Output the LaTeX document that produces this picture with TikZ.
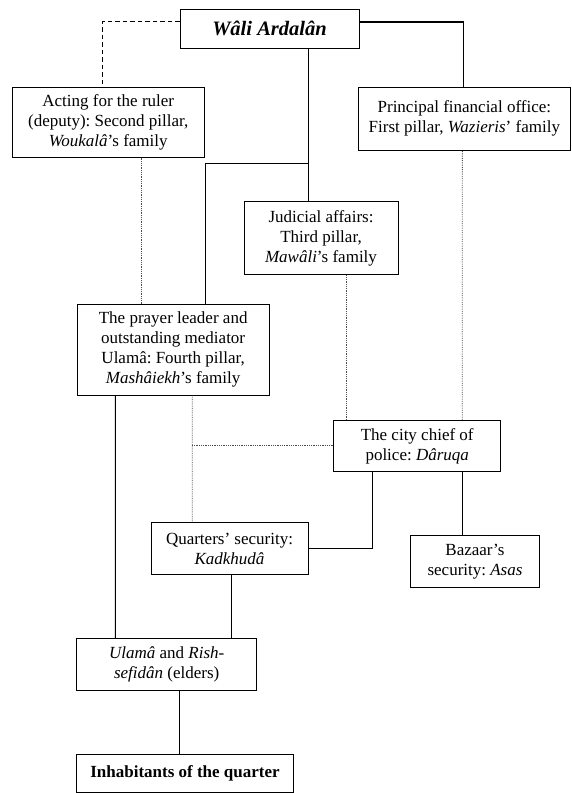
\documentclass[tikz,border=0pt]{standalone}
\usepackage{fontspec}
\setmainfont{Liberation Serif}
\frenchspacing
\begin{document}
\begin{tikzpicture}[x=1pt,y=-1pt,
  box/.style={draw=black, line width=1pt, align=center, inner sep=0pt,
    font=\fontsize{17pt}{20pt}\selectfont},
  conn/.style={line width=1pt},
  thickconn/.style={line width=1.7pt},
  dashconn/.style={line width=1.5pt, dash pattern=on 4.5pt off 3pt},
  dotconn/.style={line width=0.8pt, densely dotted, black!70}]
\useasboundingbox (0,0) rectangle (572,793);
% boxes
\node[box, minimum width=179pt, minimum height=39pt,
  font=\fontsize{20.5pt}{24pt}\selectfont\bfseries\itshape] (wali) at (269.5,28.5) {Wâli Ardalân};
\node[box, minimum width=192.5pt, minimum height=70pt] (acting) at (108.25,122)
  {Acting for the ruler\\(deputy): Second pillar,\\\textit{Woukalâ}’s family};
\node[box, minimum width=211.3pt, minimum height=63.5pt] (principal) at (464.35,118.75)
  {Principal financial office:\\First pillar, \textit{Wazieris}’ family};
\node[box, minimum width=154pt, minimum height=73pt] (judicial) at (321,238.2)
  {Judicial affairs:\\Third pillar,\\\textit{Mawâli}’s family};
\node[box, minimum width=192.3pt, minimum height=90.3pt] (prayer) at (173.15,349.85)
  {The prayer leader and\\outstanding mediator\\Ulamâ: Fourth pillar,\\\textit{Mashâiekh}’s family};
\node[box, minimum width=167pt, minimum height=50.3pt] (city) at (417.2,445.85)
  {The city chief of\\police: \textit{Dâruqa}};
\node[box, minimum width=157pt, minimum height=52.4pt] (quarters) at (229.5,548.5)
  {Quarters’ security:\\\textit{Kadkhudâ}};
\node[box, minimum width=128.6pt, minimum height=51.6pt] (bazaar) at (475,561.5)
  {Bazaar’s\\security: \textit{Asas}};
\node[box, minimum width=180pt, minimum height=51.7pt] (ulama) at (166.7,664.15)
  {\textit{Ulamâ} and \textit{Rish-}\\\textit{sefidân} (elders)};
\node[box, minimum width=216.6pt, minimum height=38pt, font=\fontsize{17pt}{20pt}\selectfont\bfseries] (inhab) at (185,773)
  {Inhabitants of the quarter};
% connectors
\draw[dashconn] ([yshift=6.8pt]wali.west) -| ([xshift=-5.55pt]acting.north);
\draw[thickconn] ([yshift=6.8pt]wali.east) -| ([xshift=-1pt]principal.north);
\draw[conn] ([xshift=38.5pt]wali.south) -- ([xshift=-13pt]judicial.north);
\coordinate (branch) at (308,163.3);
\draw[conn] (branch) -| ([xshift=31.85pt]prayer.north);
\draw[dotconn] ([xshift=32.75pt]acting.south) -- ([xshift=-32.15pt]prayer.north);
\draw[dotconn] ([xshift=25.7pt]judicial.south) -- ([xshift=-70.5pt]city.north);
\draw[dotconn] ([xshift=-2pt]principal.south) -- ([xshift=45.1pt]city.north);
\draw[dotconn] ([xshift=19.15pt]prayer.south) -- ([xshift=-37.2pt]quarters.north);
\draw[dotconn] (city.west) -- ([xshift=19.15pt]prayer.south |- city.west);
\draw[conn] ([xshift=-57.85pt]prayer.south) -- ([xshift=-51.4pt]ulama.north);
\draw[conn] ([xshift=-44.9pt]city.south) |- (quarters.east);
\draw[conn] ([xshift=44.8pt]city.south) -- ([xshift=-13pt]bazaar.north);
\draw[conn] ([xshift=1.5pt]quarters.south) -- ([xshift=64.3pt]ulama.north);
\draw[conn] ([xshift=12.6pt]ulama.south) -- ([xshift=-5.7pt]inhab.north);
\end{tikzpicture}
\end{document}
